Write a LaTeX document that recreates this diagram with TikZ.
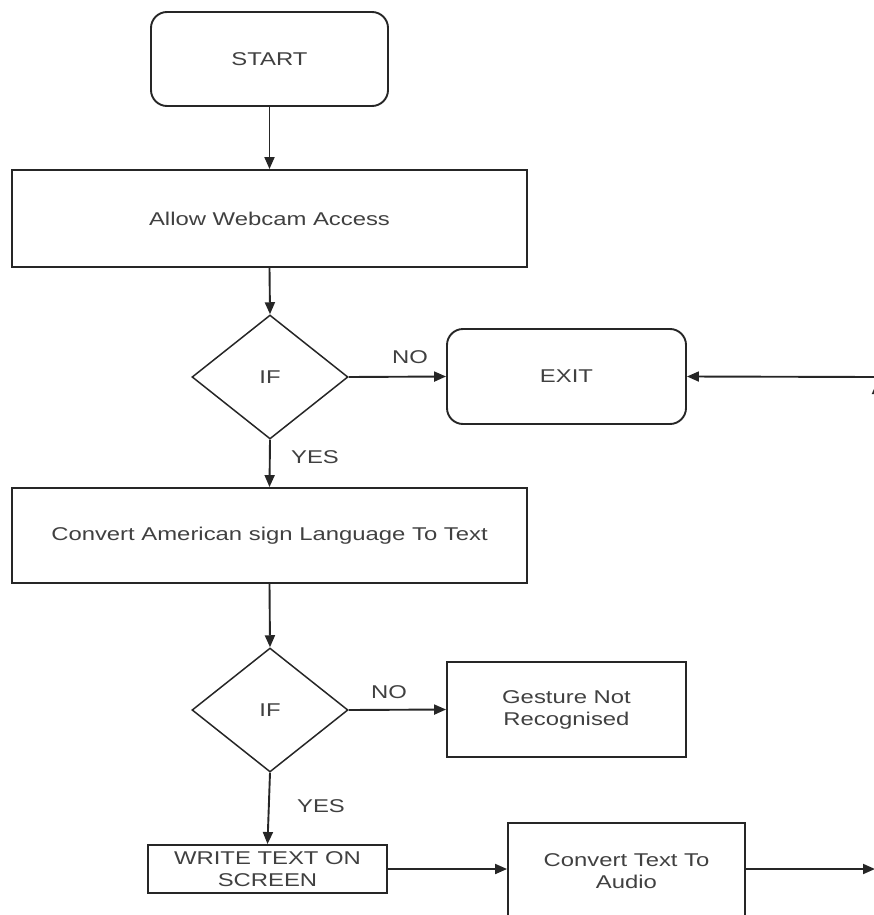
\documentclass[tikz,border=0pt]{standalone}
\usepackage{fontspec}
\newfontfamily\dfont[FakeStretch=1.29]{Liberation Sans}
\usetikzlibrary{shapes.geometric,arrows.meta}
\tikzset{
  every node/.style={font=\dfont\fontsize{18.5}{22}\selectfont, text=black!75},
  box/.style={draw=black!85, line width=1.9pt, rectangle, inner sep=0pt, align=center},
  rbox/.style={box, rounded corners=16pt},
  dec/.style={draw=black!85, line width=1.5pt, diamond, inner sep=0pt, minimum width=156pt, minimum height=124pt},
  arr/.style={draw=black!85, line width=1.9pt, -{Triangle[length=12pt,width=10pt]}},
  lbl/.style={inner sep=0pt}
}
\begin{document}
\begin{tikzpicture}[x=1pt,y=-1pt]
\useasboundingbox (0,0) rectangle (874,915);
\node[rbox, minimum width=237pt, minimum height=94pt] (start) at (269.5,59) {START};
\node[box, minimum width=515pt, minimum height=97pt] (allow) at (269.5,218.5) {Allow Webcam Access};
\node[dec] (if1) at (270,377) {IF};
\node[rbox, minimum width=239pt, minimum height=95pt] (exit) at (566.5,376.5) {EXIT};
\node[box, minimum width=515pt, minimum height=95pt] (conv) at (269.5,535.5) {Convert American sign Language To Text};
\node[dec] (if2) at (270,710) {IF};
\node[box, minimum width=239pt, minimum height=95pt] (gest) at (566.5,709.5) {Gesture Not\\Recognised};
\node[box, minimum width=239pt, minimum height=48pt] (write) at (267.5,869) {WRITE TEXT ON\\SCREEN};
\node[box, minimum width=237pt, minimum height=96pt] (audio) at (626.5,871) {Convert Text To\\Audio};
\node[lbl] (no1) at (410,357) {NO};
\node[lbl] (yes1) at (315,457) {YES};
\node[lbl] (no2) at (389,692) {NO};
\node[lbl] (yes2) at (321,806) {YES};
\coordinate (r1) at (875,869);
\coordinate (r2) at (877,869);
\coordinate (r3) at (877,382);
\coordinate (r4) at (875,377);
\draw[arr] (start.south) -- (allow.north);
\draw[arr] (allow.south) -- (if1.north);
\draw[arr] (if1.east) -- (exit.west);
\draw[arr] (if1.south) -- (conv.north);
\draw[arr] (conv.south) -- (if2.north);
\draw[arr] (if2.east) -- (gest.west);
\draw[arr] (if2.south) -- (write.north);
\draw[arr] (write.east) -- (write.east -| audio.west);
\draw[arr] (audio.east |- r1) -- (r1);
\draw[arr] (r2) -- (r3);
\draw[arr] (r4) -- (exit.east);
\end{tikzpicture}
\end{document}
